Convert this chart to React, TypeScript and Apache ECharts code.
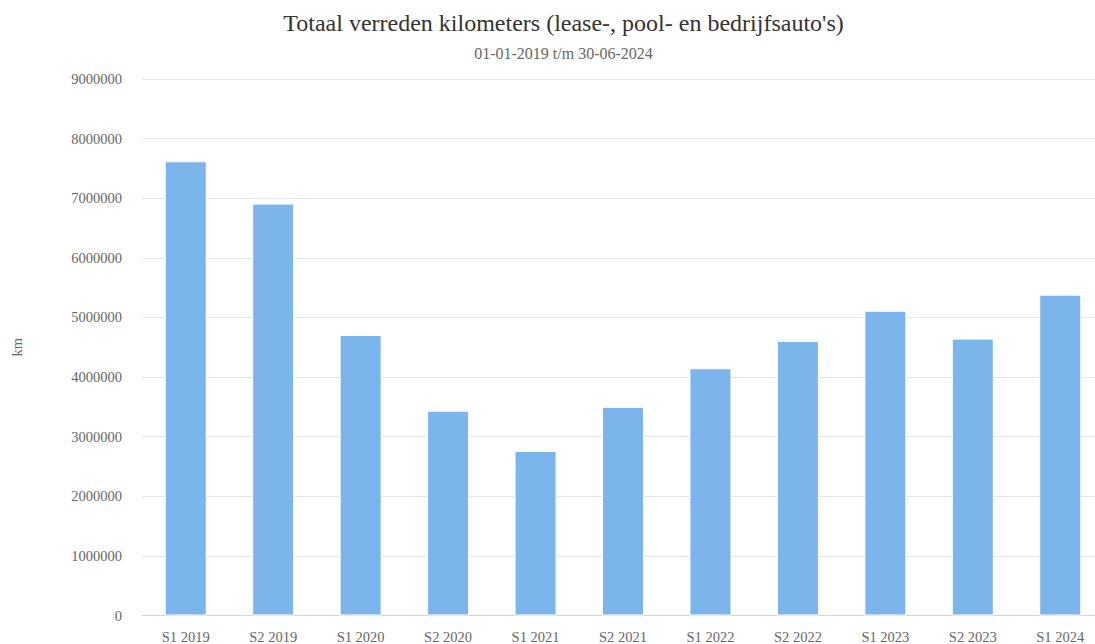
import React, { useEffect, useRef } from "react";
import * as echarts from "echarts";

const categories = [
  "S1 2019", "S2 2019", "S1 2020", "S2 2020", "S1 2021", "S2 2021",
  "S1 2022", "S2 2022", "S1 2023", "S2 2023", "S1 2024",
];
const kilometers = [
  7620000, 6910000, 4706000, 3436000, 2760000, 3500000,
  4148000, 4606000, 5112000, 4645000, 5382000,
];
const titleText = "Totaal verreden kilometers (lease-, pool- en bedrijfsauto's)";
const subtitleText = "01-01-2019 t/m 30-06-2024";
const yAxisName = "km";

const FONT = "Liberation Serif";

export default function App() {
  const ref = useRef<HTMLDivElement>(null);
  useEffect(() => {
    if (!ref.current) return;
    const chart = echarts.init(ref.current, undefined, { renderer: "svg" });
    chart.setOption({
      animation: false,
      backgroundColor: "#ffffff",
      textStyle: { fontFamily: FONT },
      title: [
        {
          text: titleText,
          left: "center",
          top: 6,
          textStyle: { fontFamily: FONT, fontSize: 24, fontWeight: "normal", color: "#333333" },
        },
        {
          text: subtitleText,
          left: "center",
          top: 40,
          textStyle: { fontFamily: FONT, fontSize: 16, fontWeight: "normal", color: "#666666" },
        },
      ],
      grid: { left: 142, right: 23, top: 79, bottom: 28.5, containLabel: false, outerBoundsMode: "none" },
      xAxis: {
        type: "category",
        data: categories,
        axisLine: { show: true, lineStyle: { color: "#ccd6eb", width: 1 } },
        axisTick: { show: false },
        axisLabel: { color: "#666666", fontSize: 14.5, fontFamily: FONT, margin: 14 },
      },
      yAxis: {
        type: "value",
        min: 0,
        max: 9000000,
        interval: 1000000,
        name: yAxisName,
        nameLocation: "middle",
        nameGap: 118,
        nameTextStyle: { color: "#666666", fontSize: 14.5, fontFamily: FONT },
        axisLine: { show: false },
        axisTick: { show: false },
        axisLabel: {
          color: "#666666",
          fontSize: 14.5,
          fontFamily: FONT,
          margin: 20,
          formatter: (v: number) => String(v),
        },
        splitLine: { lineStyle: { color: "#e6e6e6", width: 1 } },
      },
      series: [
        {
          type: "bar",
          data: kilometers,
          barWidth: 42,
          itemStyle: { color: "#7cb5ec", borderColor: "#ffffff", borderWidth: 1 },
        },
      ],
    });
    return () => chart.dispose();
  }, []);
  return (
    <div style={{ position: "fixed", left: 0, top: 0, width: 1095, height: 644, overflow: "hidden", background: "#fff" }}>
      <div ref={ref} style={{ width: 1127, height: 644 }} />
    </div>
  );
}
